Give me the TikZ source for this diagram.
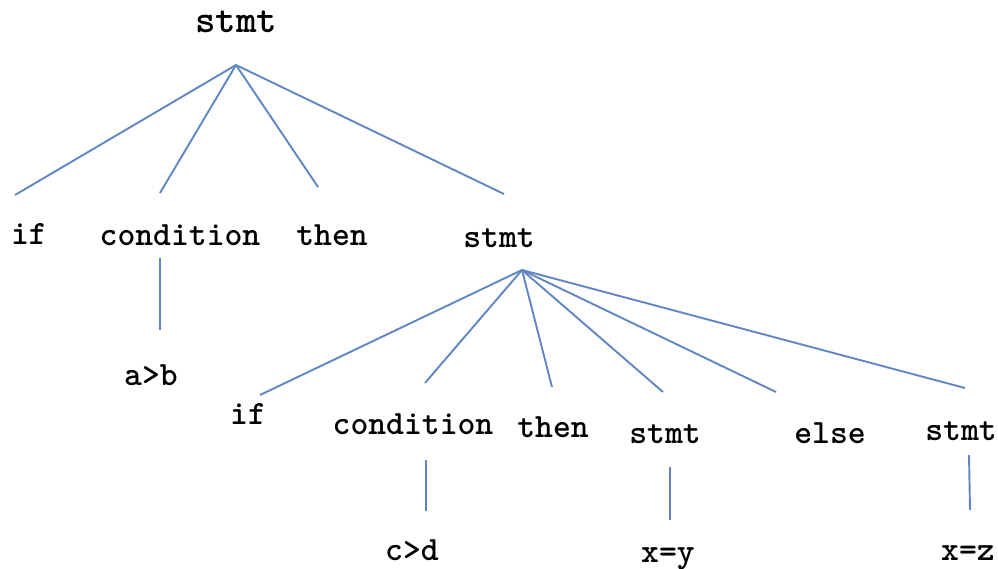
\documentclass[tikz,border=0pt]{standalone}
\usepackage{fontspec}
\begin{document}
\begin{tikzpicture}[x=1pt,y=-1pt,
  lbl/.style={anchor=base,inner sep=0pt,font=\ttfamily\bfseries\fontsize{34}{40}\selectfont},
  toplbl/.style={lbl,font=\ttfamily\bfseries\fontsize{39}{46}\selectfont},
  edge/.style={draw={rgb,255:red,96;green,135;blue,194},line width=1.9pt}]
\fill[white] (0,0) rectangle (998,568);
\useasboundingbox (0,0) rectangle (998,568);
% labels
\node[toplbl] (s0) at (236,32) {stmt};
\node[lbl] (if1) at (29,244) {if};
\node[lbl] (c1) at (180,245) {condition};
\node[lbl] (t1) at (332,245) {then};
\node[lbl] (s1) at (499,247) {stmt};
\node[lbl] (ab) at (151,385) {a>b};
\node[lbl] (if2) at (248,424) {if};
\node[lbl] (c2) at (413,434) {condition};
\node[lbl] (t2) at (553,437) {then};
\node[lbl] (s2) at (665,443) {stmt};
\node[lbl] (el) at (830,443) {else};
\node[lbl] (s3) at (961,440) {stmt};
\node[lbl] (cd) at (412,560) {c>d};
\node[lbl] (xy) at (668,562) {x=y};
\node[lbl] (xz) at (968,560) {x=z};
% connector end points
\coordinate (r0) at (236,65);
\coordinate (e1) at (15,195);
\coordinate (e2) at (160,193);
\coordinate (e3) at (318,187);
\coordinate (e4) at (504,194);
\coordinate (a1) at (160,258);
\coordinate (a2) at (160,330);
\coordinate (r1) at (522,270);
\coordinate (f1) at (260,395);
\coordinate (f2) at (425,383);
\coordinate (f3) at (552,387);
\coordinate (f4) at (663,392);
\coordinate (f5) at (776,392);
\coordinate (f6) at (965,388);
\coordinate (g1) at (426,460);
\coordinate (g2) at (426,511);
\coordinate (h1) at (670,467);
\coordinate (h2) at (670,520);
\coordinate (k1) at (969,455);
\coordinate (k2) at (970,510);
% connectors
\draw[edge] (r0) -- (e1);
\draw[edge] (r0) -- (e2);
\draw[edge] (r0) -- (e3);
\draw[edge] (r0) -- (e4);
\draw[edge] (a1) -- (a2);
\draw[edge] (r1) -- (f1);
\draw[edge] (r1) -- (f2);
\draw[edge] (r1) -- (f3);
\draw[edge] (r1) -- (f4);
\draw[edge] (r1) -- (f5);
\draw[edge] (r1) -- (f6);
\draw[edge] (g1) -- (g2);
\draw[edge] (h1) -- (h2);
\draw[edge] (k1) -- (k2);
\end{tikzpicture}
\end{document}
